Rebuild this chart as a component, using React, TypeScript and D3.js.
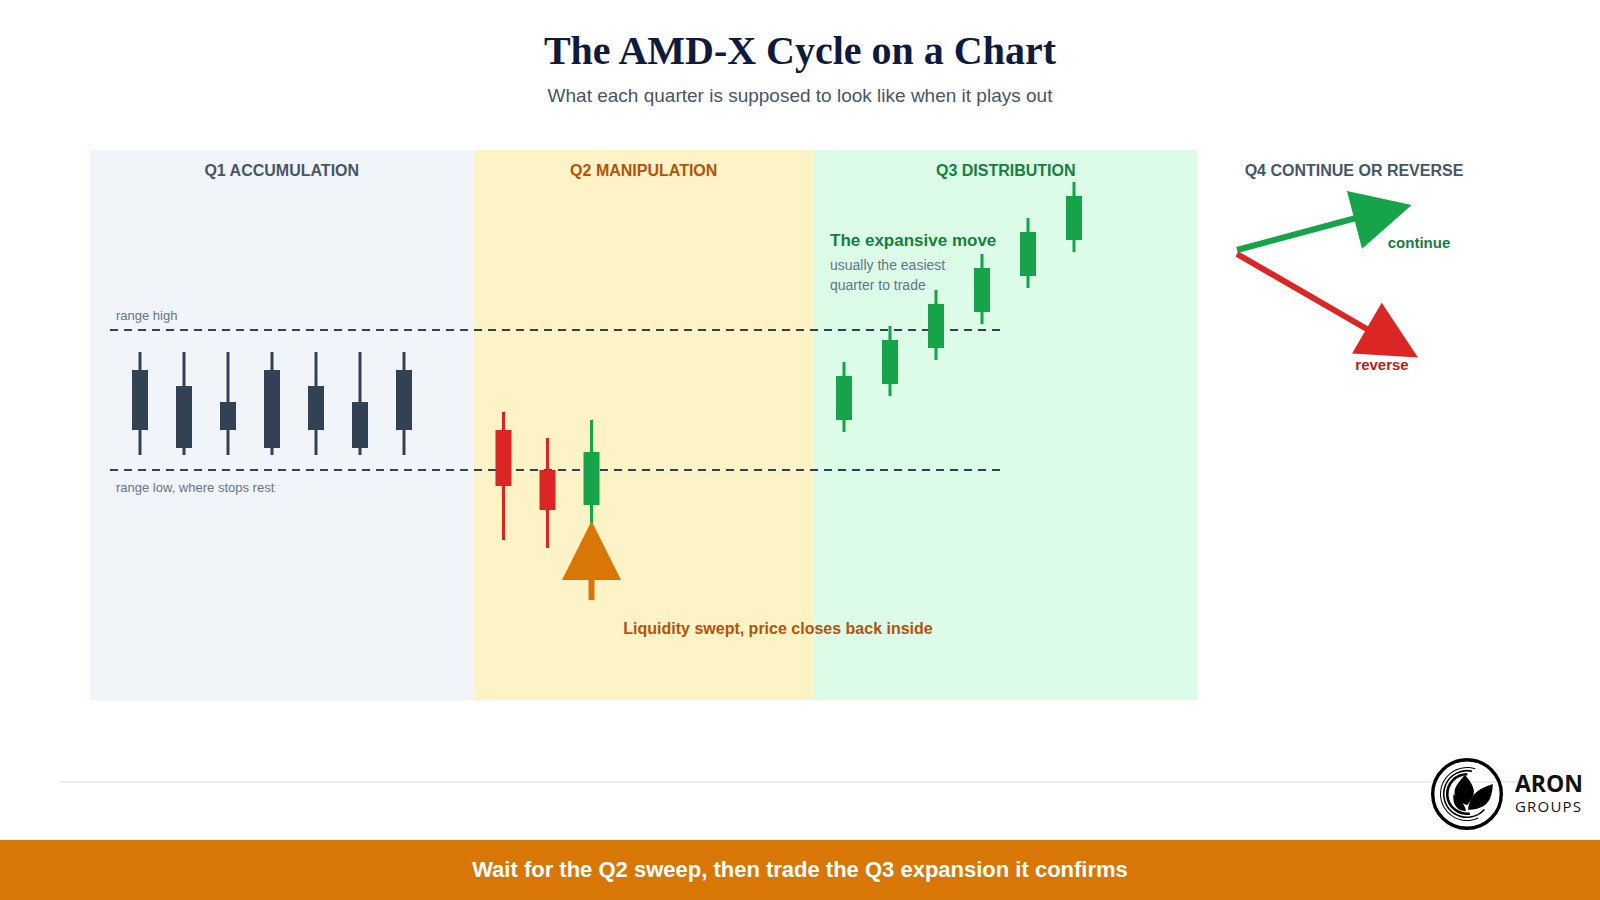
import { useRef, useEffect } from 'react';
import * as d3 from 'd3';

// Price is read relative to the range low (0) and range high (140)
const Q1_OPEN = [40, 22, 40, 22, 40, 22, 40];
const Q1_CLOSE = [100, 84, 68, 100, 84, 68, 100];
const Q1_HIGH = [118, 118, 118, 118, 118, 118, 118];
const Q1_LOW = [15, 15, 15, 15, 15, 15, 15];

const Q2_OPEN = [40, 0, -35];
const Q2_CLOSE = [-16, -40, 18];
const Q2_HIGH = [58, 32, 50];
const Q2_LOW = [-70, -78, -55];

const Q3_OPEN = [50, 86, 122, 158, 194, 230];
const Q3_CLOSE = [94, 130, 166, 202, 238, 274];
const Q3_HIGH = [108, 144, 180, 216, 252, 288];
const Q3_LOW = [38, 74, 110, 146, 182, 218];

const RANGE_LEVELS = [140, 0];
const PHASE_LABELS = ['Q1 ACCUMULATION', 'Q2 MANIPULATION', 'Q3 DISTRIBUTION'];
const Q4_LABEL = 'Q4 CONTINUE OR REVERSE';

const SANS = '"Liberation Sans", Arial, sans-serif';
const SERIF = '"Liberation Serif", "Times New Roman", serif';

export default function App() {
  const ref = useRef<SVGSVGElement>(null);

  useEffect(() => {
    const svg = ref.current;
    if (!svg) return;
    d3.select(svg).selectAll('*').remove();
    const g = d3.select(svg).append('g');

    const label = (x: number, y: number, s: string, size: number, fill: string, weight = 'normal', anchor = 'middle', family = SANS) =>
      g.append('text').attr('x', x).attr('y', y).attr('font-size', size).attr('font-family', family)
        .attr('font-weight', weight).attr('text-anchor', anchor).attr('fill', fill).text(s);

    g.append('rect').attr('width', 1600).attr('height', 900).attr('fill', '#fff');

    label(800, 64, 'The AMD-X Cycle on a Chart', 40, '#0f1b3d', 'bold', 'middle', SERIF);
    label(800, 102, 'What each quarter is supposed to look like when it plays out', 19, '#475569');

    // Phase panels
    const panels = [
      { x0: 90, x1: 473.5, fill: '#f1f5f9', text: '#475569' },
      { x0: 473.5, x1: 814, fill: '#fef3c7', text: '#b45309' },
      { x0: 814, x1: 1197.5, fill: '#dcfce7', text: '#15803d' },
    ];
    panels.forEach((p) => {
      g.append('rect').attr('x', p.x0).attr('y', 150).attr('width', p.x1 - p.x0).attr('height', 550).attr('fill', p.fill);
    });
    panels.forEach((p, i) => {
      label((p.x0 + p.x1) / 2, 176, PHASE_LABELS[i], 16, p.text, 'bold');
    });
    label(1354, 176, Q4_LABEL, 16, '#475569', 'bold');

    const yScale = d3.scaleLinear().domain([0, 140]).range([470, 330]);

    // Range lines
    RANGE_LEVELS.forEach((v) => {
      g.append('line')
        .attr('x1', 110).attr('x2', 1000).attr('y1', yScale(v)).attr('y2', yScale(v))
        .attr('stroke', '#334155').attr('stroke-width', 2).attr('stroke-dasharray', '8,6');
    });
    label(116, 320, 'range high', 13, '#64748b', 'normal', 'start');
    label(116, 492, 'range low, where stops rest', 13, '#64748b', 'normal', 'start');

    // Candles
    const drawCandles = (
      open: number[], close: number[], high: number[], low: number[],
      xScale: d3.ScaleLinear<number, number>, color: (up: boolean) => string,
    ) => {
      open.forEach((o, i) => {
        const x = xScale(i);
        const c = color(close[i] > o);
        g.append('line').attr('x1', x).attr('x2', x).attr('y1', yScale(high[i])).attr('y2', yScale(low[i]))
          .attr('stroke', c).attr('stroke-width', 3);
        g.append('rect').attr('x', x - 8).attr('width', 16)
          .attr('y', yScale(Math.max(o, close[i])))
          .attr('height', Math.abs(yScale(o) - yScale(close[i])))
          .attr('fill', c);
      });
    };
    drawCandles(Q1_OPEN, Q1_CLOSE, Q1_HIGH, Q1_LOW, d3.scaleLinear().domain([0, 6]).range([140, 404]), () => '#334155');
    drawCandles(Q2_OPEN, Q2_CLOSE, Q2_HIGH, Q2_LOW, d3.scaleLinear().domain([0, 2]).range([503.5, 591.5]), (up) => (up ? '#16a34a' : '#dc2626'));
    drawCandles(Q3_OPEN, Q3_CLOSE, Q3_HIGH, Q3_LOW, d3.scaleLinear().domain([0, 5]).range([844, 1074]), () => '#16a34a');

    // Sweep arrow
    g.append('line').attr('x1', 591.5).attr('x2', 591.5).attr('y1', 600).attr('y2', 575).attr('stroke', '#d97706').attr('stroke-width', 6);
    g.append('path').attr('d', 'M591.5,521L621,580L562,580Z').attr('fill', '#d97706');
    label(778, 634, 'Liquidity swept, price closes back inside', 16, '#b45309', 'bold');

    // Q3 note
    label(830, 246, 'The expansive move', 17, '#15803d', 'bold', 'start');
    label(830, 270, 'usually the easiest', 14, '#64748b', 'normal', 'start');
    label(830, 290, 'quarter to trade', 14, '#64748b', 'normal', 'start');

    // Q4 arrows
    g.append('line').attr('x1', 1237).attr('y1', 250).attr('x2', 1356).attr('y2', 218).attr('stroke', '#16a34a').attr('stroke-width', 6);
    g.append('path').attr('d', 'M1411.7,205L1347,191L1362,248.7Z').attr('fill', '#16a34a');
    label(1419, 248, 'continue', 15, '#15803d', 'bold');
    g.append('line').attr('x1', 1237).attr('y1', 254).attr('x2', 1372).attr('y2', 332).attr('stroke', '#dc2626').attr('stroke-width', 6);
    g.append('path').attr('d', 'M1418,357.5L1381.7,302.7L1352,353.5Z').attr('fill', '#dc2626');
    label(1382, 370, 'reverse', 15, '#b91c1c', 'bold');

    // Footer
    g.append('line').attr('x1', 60).attr('x2', 1540).attr('y1', 782).attr('y2', 782).attr('stroke', '#e2e8f0').attr('stroke-width', 1.5);
    g.append('rect').attr('x', 0).attr('y', 840).attr('width', 1600).attr('height', 60).attr('fill', '#d97706');
    label(800, 877, 'Wait for the Q2 sweep, then trade the Q3 expansion it confirms', 22, '#fff', 'bold');

    // Logo
    const logo = g.append('g').attr('transform', 'translate(1467,794)');
    logo.append('circle').attr('r', 34.3).attr('fill', 'none').attr('stroke', '#000').attr('stroke-width', 3.4);
    const arc = d3.arc();
    [[26, 2.7, 6.6, 1], [22.5, 2.3, 6.5, 1.6], [18.5, 3.0, 6.3, 2.6]].forEach(([r, a0, a1, w]) => {
      logo.append('path').attr('fill', '#000')
        .attr('d', arc({ innerRadius: r, outerRadius: r + w, startAngle: a0, endAngle: a1 }) as string);
    });
    // centre leaf, right leaf, lower left leaf
    const leaves = logo.append('g').attr('transform', 'translate(0,-1) scale(1.12)').attr('fill', '#000');
    leaves.append('path').attr('d', 'M-2,-16C-8,-9 -12,-4 -11,1C-10,6 -5,9 0,11C3,7 7,2 6,-3C5,-8 1,-13 -2,-16Z');
    leaves.append('path').attr('d', 'M23,-8C15,-5 7,-2 4,5C2,9 1,12 1,15C9,15 17,12 20,6C22,2 23,-3 23,-8Z');
    leaves.append('path').attr('d', 'M-12,1C-13,7 -11,12 -8,14C-5,16 -2,16 -1,16C-2,10 -7,4 -12,1Z');

    label(1515, 792, 'ARON', 23, '#111', 'bold', 'start', '"Open Sans", sans-serif');
    label(1515, 812, 'GROUPS', 15, '#111', 'normal', 'start', '"Open Sans", sans-serif').attr('letter-spacing', 1.2);
  }, []);

  return <svg ref={ref} width={1600} height={900} viewBox="0 0 1600 900" style={{ position: 'absolute', left: 0, top: 0 }} />;
}
